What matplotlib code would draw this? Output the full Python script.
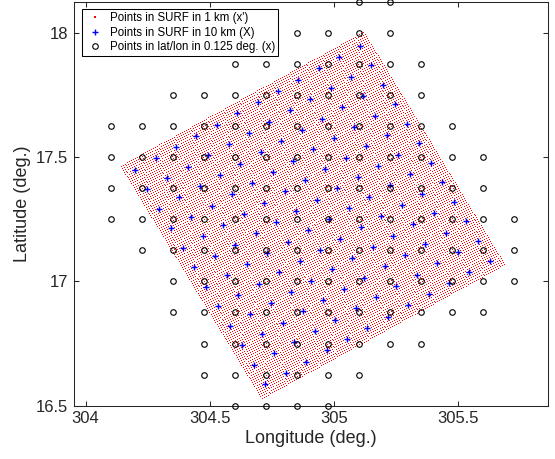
import numpy as np
import matplotlib
matplotlib.use("Agg")
import matplotlib.pyplot as plt

plt.rcParams["font.family"] = ["Liberation Sans", "DejaVu Sans"]

# ---- data ----
# corners of the SURF domain (outermost 1 km points), lon / lat in degrees
corner_left = (304.141, 17.465)
corner_top = (305.118, 18.003)
corner_bottom = (304.708, 16.531)
n_fine = 120        # 1 km points per side
coarse_step = 10    # 10 km points = centres of 10x10 blocks of 1 km points

# lat/lon 0.125 deg grid points: one row per latitude, with first / last longitude
circle_lats = [16.5, 16.625, 16.75, 16.875, 17.0, 17.125, 17.25, 17.375,
               17.5, 17.625, 17.75, 17.875, 18.0, 18.125]
circle_lon_first = [304.6, 304.475, 304.475, 304.35, 304.35, 304.225, 304.1,
                    304.1, 304.1, 304.1, 304.35, 304.6, 304.85, 305.1]
circle_lon_last = [304.975, 305.1, 305.35, 305.6, 305.725, 305.725, 305.725,
                   305.6, 305.6, 305.475, 305.35, 305.35, 305.225, 305.225]
circle_step = 0.125

x_ticks = [304, 304.5, 305, 305.5]
x_tick_labels = ["304", "304.5", "305", "305.5"]
y_ticks = [16.5, 17, 17.5, 18]
y_tick_labels = ["16.5", "17", "17.5", "18"]

legend_labels = ["Points in SURF in 1 km (x')",
                 "Points in SURF in 10 km (X)",
                 "Points in lat/lon in 0.125 deg. (x)"]

# ---- build point sets ----
L = np.array(corner_left)
eu = (np.array(corner_top) - L) / (n_fine - 1)
ev = (np.array(corner_bottom) - L) / (n_fine - 1)

ii, jj = np.meshgrid(np.arange(n_fine), np.arange(n_fine))
fine_lon = L[0] + ii * eu[0] + jj * ev[0]
fine_lat = L[1] + ii * eu[1] + jj * ev[1]

c_idx = np.arange(coarse_step / 2 - 0.5, n_fine, coarse_step)
ci, cj = np.meshgrid(c_idx, c_idx)
coarse_lon = L[0] + ci * eu[0] + cj * ev[0]
coarse_lat = L[1] + ci * eu[1] + cj * ev[1]

circ_lon, circ_lat = [], []
for lat, a, b in zip(circle_lats, circle_lon_first, circle_lon_last):
    n = int(round((b - a) / circle_step)) + 1
    for k in range(n):
        circ_lon.append(a + k * circle_step)
        circ_lat.append(lat)

# ---- figure ----
fig = plt.figure(figsize=(5.55, 4.59), dpi=100)
ax = fig.add_axes([74 / 555, (459 - 405.7) / 459, 474 / 555, 404 / 459])

ax.plot(fine_lon.ravel(), fine_lat.ravel(), ls="none", marker="s", ms=0.7,
        mew=0, color=(1, 0, 0), label=legend_labels[0])
ax.plot(coarse_lon.ravel(), coarse_lat.ravel(), ls="none", marker="+", ms=4.8,
        mew=1.0, color=(0, 0, 1), label=legend_labels[1])
ax.plot(circ_lon, circ_lat, ls="none", marker="o", ms=4.0, mew=0.8,
        mfc="none", mec="black", color="black", label=legend_labels[2],
        clip_on=False, zorder=5)

ax.set_xlim(303.953, 305.861)
ax.set_ylim(16.5, 18.125)
ax.set_xticks(x_ticks)
ax.set_xticklabels(x_tick_labels)
ax.set_yticks(y_ticks)
ax.set_yticklabels(y_tick_labels)

gray = (0.15, 0.15, 0.15)
for s in ax.spines.values():
    s.set_color(gray)
    s.set_linewidth(0.75)
ax.tick_params(direction="in", top=True, right=True, length=3.6, width=0.75,
               colors=gray, labelsize=12, pad=4)
ax.set_xlabel("Longitude (deg.)", fontsize=13, color=gray, labelpad=3)
ax.set_ylabel("Latitude (deg.)", fontsize=13, color=gray, labelpad=4)

leg = ax.legend(loc="upper left", bbox_to_anchor=(0.0169, 0.982),
                borderaxespad=0, fontsize=8.3, frameon=True, fancybox=False,
                framealpha=1, edgecolor="black", borderpad=0.3,
                labelspacing=0.2, handlelength=1.6, handletextpad=0.5,
                markerscale=1.0)
leg.get_frame().set_linewidth(0.75)
leg.legend_handles[0].set_markersize(1.5)
leg.set_zorder(10)

fig.savefig("out.png", dpi=100)
